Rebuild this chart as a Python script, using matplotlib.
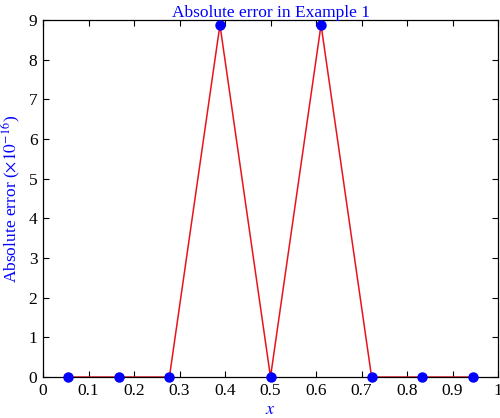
import matplotlib
matplotlib.use("Agg")
import matplotlib.pyplot as plt
import numpy as np

# data
x_nodes = [0.0556, 0.1667, 0.2778, 0.3889, 0.5, 0.6111, 0.7222, 0.8333, 0.9444]
abs_err = [0, 0, 0, 8.88, 0, 8.88, 0, 0, 0]
x_ticks = [0, 0.1, 0.2, 0.3, 0.4, 0.5, 0.6, 0.7, 0.8, 0.9, 1]
x_ticklabels = ["0", "0.1", "0.2", "0.3", "0.4", "0.5", "0.6", "0.7", "0.8", "0.9", "1"]
y_ticks = list(range(10))

plt.rcParams['font.family'] = ['Liberation Serif', 'DejaVu Serif']
plt.rcParams['mathtext.fontset'] = 'stix'

fig = plt.figure(figsize=(5, 4.18), dpi=100)
ax = fig.add_axes([0.086, 0.098, 0.91, 0.854])

ax.plot(x_nodes, abs_err, color='#e8141c', lw=1.1, zorder=2)
ax.plot(x_nodes, abs_err, 'o', color='#0000ff', ms=6.5, zorder=3, clip_on=False)

ax.set_xlim(0, 1)
ax.set_ylim(0, 9)
ax.set_xticks(x_ticks)
ax.set_xticklabels(x_ticklabels)
ax.set_yticks(y_ticks)
ax.tick_params(direction='in', top=True, right=True, length=4, width=0.8, labelsize=12.5, pad=4)
for s in ax.spines.values():
    s.set_linewidth(0.9)

ax.set_title("Absolute error in Example 1", color='#0000ff', fontsize=12.5, pad=2)
ax.set_xlabel(r"$x$", color='#0000ff', fontsize=13, labelpad=2)
ax.set_ylabel(r"Absolute error ($\times 10^{-16}$)", color='#0000ff', fontsize=12.5, labelpad=4)

fig.savefig("out.png", dpi=100)
